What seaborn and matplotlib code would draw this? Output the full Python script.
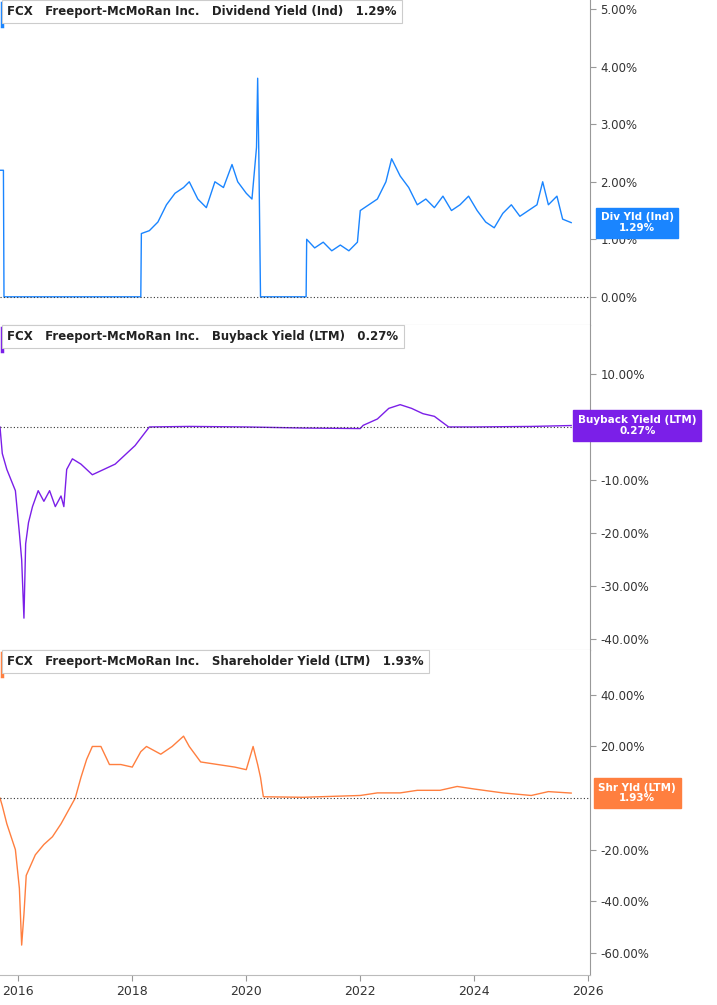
import matplotlib
matplotlib.use("Agg")
import matplotlib.pyplot as plt
import seaborn as sns
import pandas as pd

div_t = [2015.68,2015.74,2015.75,2018.15,2018.16,2018.3,2018.45,2018.6,2018.75,2018.9,2019.0,2019.15,2019.3,2019.45,2019.6,2019.75,2019.85,2020.0,2020.1,2020.18,2020.2,2020.22,2020.25,2021.05,2021.06,2021.2,2021.35,2021.5,2021.65,2021.8,2021.95,2022.0,2022.15,2022.3,2022.45,2022.55,2022.7,2022.85,2023.0,2023.15,2023.3,2023.45,2023.6,2023.75,2023.9,2024.05,2024.2,2024.35,2024.5,2024.65,2024.8,2024.95,2025.1,2025.2,2025.3,2025.45,2025.55,2025.7]
div_v = [2.2,2.2,0.0,0.0,1.1,1.15,1.3,1.6,1.8,1.9,2.0,1.7,1.55,2.0,1.9,2.3,2.0,1.8,1.7,2.6,3.8,2.5,0.0,0.0,1.0,0.85,0.95,0.8,0.9,0.8,0.95,1.5,1.6,1.7,2.0,2.4,2.1,1.9,1.6,1.7,1.55,1.75,1.5,1.6,1.75,1.5,1.3,1.2,1.45,1.6,1.4,1.5,1.6,2.0,1.6,1.75,1.35,1.29]

bb_t = [2015.68,2015.72,2015.8,2015.95,2016.02,2016.06,2016.1,2016.13,2016.18,2016.25,2016.35,2016.45,2016.55,2016.65,2016.75,2016.8,2016.85,2016.95,2017.1,2017.3,2017.5,2017.7,2017.9,2018.05,2018.3,2019.0,2020.0,2021.0,2022.0,2022.05,2022.3,2022.5,2022.7,2022.9,2023.1,2023.3,2023.55,2024.0,2025.0,2025.7]
bb_v = [0.0,-5.0,-8.0,-12.0,-20.0,-25.0,-36.0,-22.0,-18.0,-15.0,-12.0,-14.0,-12.0,-15.0,-13.0,-15.0,-8.0,-6.0,-7.0,-9.0,-8.0,-7.0,-5.0,-3.5,0.0,0.1,0.0,-0.2,-0.3,0.3,1.5,3.5,4.2,3.5,2.5,2.0,0.0,0.0,0.1,0.27]

sy_t = [2015.68,2015.72,2015.8,2015.95,2016.02,2016.06,2016.1,2016.14,2016.2,2016.3,2016.45,2016.6,2016.75,2016.9,2017.0,2017.1,2017.2,2017.3,2017.45,2017.6,2017.8,2018.0,2018.15,2018.25,2018.5,2018.7,2018.9,2019.0,2019.2,2019.5,2019.8,2020.0,2020.12,2020.2,2020.25,2020.3,2021.0,2022.0,2022.3,2022.7,2023.0,2023.4,2023.7,2024.0,2024.5,2025.0,2025.3,2025.7]
sy_v = [0.0,-3.0,-10.0,-20.0,-35.0,-57.0,-45.0,-30.0,-27.0,-22.0,-18.0,-15.0,-10.0,-4.0,0.0,8.0,15.0,20.0,20.0,13.0,13.0,12.0,18.0,20.0,17.0,20.0,24.0,20.0,14.0,13.0,12.0,11.0,20.0,13.0,8.0,0.5,0.3,1.0,2.0,2.0,3.0,3.0,4.5,3.5,2.0,1.0,2.5,1.93]

panels = [
    (div_t, div_v, "#1a85ff", "Dividend Yield (Ind)", "1.29%", "Div Yld (Ind)\n1.29%", (-0.49, 5.16), [0,1,2,3,4,5]),
    (bb_t, bb_v, "#7b1fe8", "Buyback Yield (LTM)", "0.27%", "Buyback Yield (LTM)\n0.27%", (-42, 19.2), [-40,-30,-20,-10,10]),
    (sy_t, sy_v, "#ff7f3f", "Shareholder Yield (LTM)", "1.93%", "Shr Yld (LTM)\n1.93%", (-68.6, 57.4), [-60,-40,-20,20,40]),
]

fig = plt.figure(figsize=(7.17, 10.05), dpi=100)
H = 1005.0
bounds = [(0, 325), (325, 650), (650, 975)]
for i, (t, v, c, name, val, tag, ylim, ticks) in enumerate(panels):
    top, bot = bounds[i]
    ax = fig.add_axes([0, 1 - bot / H, 590 / 717, (bot - top) / H])
    df = pd.DataFrame({"t": t, "v": v})
    sns.lineplot(data=df, x="t", y="v", ax=ax, color=c, lw=1.0)
    ax.set_xlim(2015.68, 2026.03)
    ax.set_ylim(*ylim)
    ax.axhline(0, color="#333333", ls=(0, (1, 2)), lw=0.8)
    ax.yaxis.tick_right()
    ax.set_yticks(ticks)
    ax.set_yticklabels([f"{x:.2f}%" for x in ticks], fontsize=8.5, color="#333333")
    ax.tick_params(axis="y", length=4, color="#999999")
    ax.set_xlabel(""); ax.set_ylabel("")
    for s in ["top", "left"]:
        ax.spines[s].set_visible(False)
    ax.spines["right"].set_color("#999999")
    ax.spines["bottom"].set_color("#bbbbbb")
    if i < 2:
        ax.set_xticks([])
    else:
        ax.set_xticks([2016, 2018, 2020, 2022, 2024, 2026])
        ax.set_xticklabels(["2016", "2018", "2020", "2022", "2024", "2026"], fontsize=9, color="#333333")
        ax.tick_params(axis="x", length=4, color="#999999")
    ax.text(0.012, 0.985, f"FCX   Freeport-McMoRan Inc.   {name}   {val}", transform=ax.transAxes,
            ha="left", va="top", fontsize=8.5, fontweight="bold", color="#222222",
            bbox=dict(boxstyle="square,pad=0.45", fc="white", ec="#cccccc", lw=0.8))
    ax.plot([0.003, 0.003], [0.92, 0.99], transform=ax.transAxes, color=c, lw=2.5, clip_on=False)
    last = v[-1]
    yfrac = (last - ylim[0]) / (ylim[1] - ylim[0])
    ax.text(1.08, yfrac, tag, transform=ax.transAxes, ha="center", va="center", fontsize=7.5,
            fontweight="bold", color="white", linespacing=1.1, multialignment="center",
            bbox=dict(boxstyle="square,pad=0.45", fc=c, ec=c))
    ax.set_facecolor("white")

fig.savefig("out.png", dpi=100)
